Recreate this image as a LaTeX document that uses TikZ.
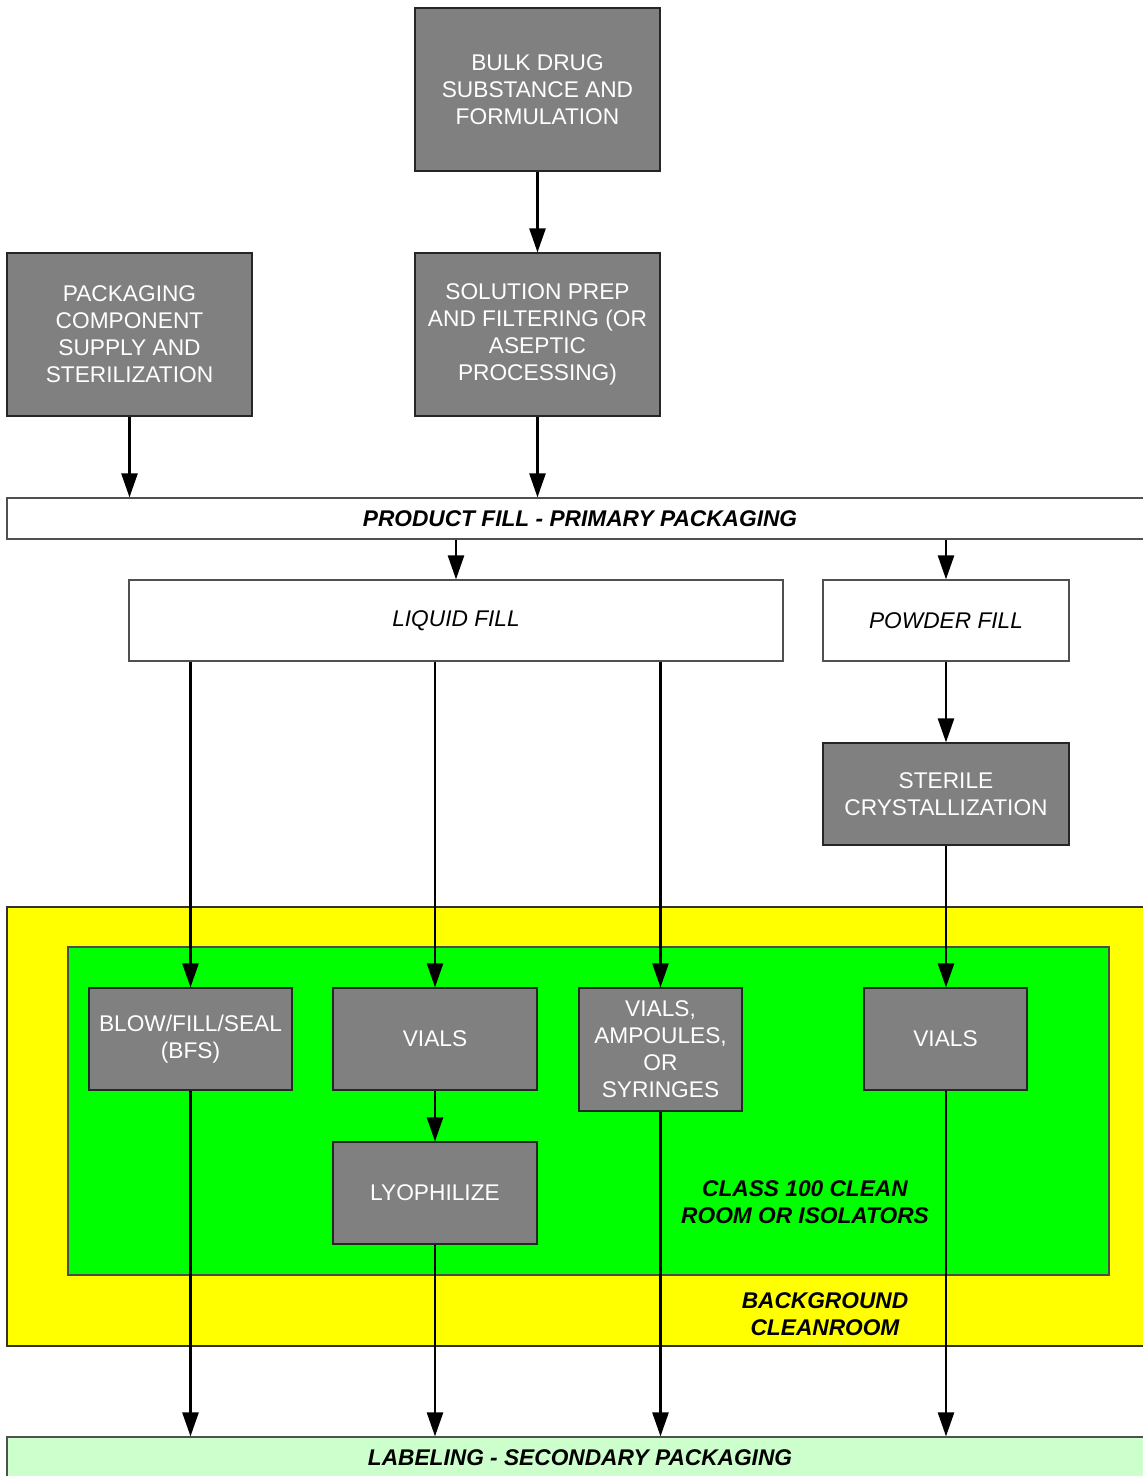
\documentclass[tikz,border=0pt]{standalone}
\usepackage{fontspec}
\setmainfont{Liberation Sans}
\usepackage{tikz}
\usetikzlibrary{arrows.meta}
\definecolor{boxgray}{HTML}{808080}
\definecolor{roomyellow}{HTML}{FFFF00}
\definecolor{roomgreen}{HTML}{00FF00}
\definecolor{labelgreen}{HTML}{CCFFCC}
\definecolor{edgegray}{HTML}{505050}
\tikzset{
  stepbox/.style={draw=black!85,line width=1.2pt,fill=boxgray,text=white,align=center,inner sep=0pt,
    font=\fontsize{22.7}{27}\selectfont},
  fillbox/.style={draw=edgegray,line width=1.2pt,fill=white,align=center,inner sep=0pt,
    font=\fontsize{22.7}{27}\selectfont\itshape},
  barbox/.style={draw=edgegray,line width=1.2pt,align=center,inner sep=0pt,
    minimum width=1146pt,minimum height=41pt,font=\fontsize{22.7}{27}\selectfont\bfseries\itshape},
  roomlabel/.style={align=center,inner sep=0pt,font=\fontsize{22.7}{27}\selectfont\bfseries\itshape},
  flow/.style={->,line width=2.5pt,black}
}
\begin{document}
\begin{tikzpicture}[line cap=butt,line join=miter,>={Triangle[width=16pt,length=24pt]},x=1pt,y=-1pt]
\clip(0,0) rectangle (1143,1476);
\useasboundingbox (0,0) rectangle (1143,1476);
% clean rooms
\draw [line width=1.2pt,draw=black!80,fill=roomyellow] (7,907) rectangle (1153,1346);
\draw [line width=1.2pt,draw=black!70,fill=roomgreen] (68,947) rectangle (1109,1275);
\node [roomlabel] (bgroom) at (825,1314.5) {BACKGROUND\\CLEANROOM};
\node [roomlabel] (cleanroom) at (805,1202.5) {CLASS 100 CLEAN\\ROOM OR ISOLATORS};
% upstream
\node [stepbox,minimum width=245pt,minimum height=163pt] (bulk) at (537.5,89.5) {BULK DRUG\\SUBSTANCE AND\\FORMULATION};
\node [stepbox,minimum width=245pt,minimum height=163pt] (solprep) at (537.5,334.5) {SOLUTION PREP\\AND FILTERING (OR\\ASEPTIC\\PROCESSING)};
\node [stepbox,minimum width=245pt,minimum height=163pt] (pkgsupply) at (129.5,334.5) {PACKAGING\\COMPONENT\\SUPPLY AND\\STERILIZATION};
\node [barbox,fill=white] (prodfill) at (580,518.5) {PRODUCT FILL - PRIMARY PACKAGING};
\node [fillbox,minimum width=654pt,minimum height=81pt] (liquid) at (456,620.5) {LIQUID FILL};
\node [fillbox,minimum width=246pt,minimum height=81pt] (powder) at (946,620.5) {POWDER FILL};
\node [stepbox,minimum width=246pt,minimum height=102pt] (steril) at (946,794) {STERILE\\CRYSTALLIZATION};
% fill lines
\node [stepbox,minimum width=203pt,minimum height=102pt] (bfs) at (190.5,1039) {BLOW/FILL/SEAL\\(BFS)};
\node [stepbox,minimum width=204pt,minimum height=102pt] (vialsl) at (435,1039) {VIALS};
\node [stepbox,minimum width=204pt,minimum height=102pt] (lyo) at (435,1193) {LYOPHILIZE};
\node [stepbox,minimum width=163pt,minimum height=123pt] (vas) at (660.5,1049.5) {VIALS,\\AMPOULES,\\OR\\SYRINGES};
\node [stepbox,minimum width=163pt,minimum height=102pt] (vialsp) at (945.5,1039) {VIALS};
\node [barbox,fill=labelgreen] (labeling) at (580,1457.5) {LABELING - SECONDARY PACKAGING};
% connectors
\draw [flow] (bulk) -- (solprep);
\draw [flow] (solprep) -- (solprep |- prodfill.north);
\draw [flow] (pkgsupply) -- (pkgsupply |- prodfill.north);
\draw [flow] (liquid.north |- prodfill.south) -- (liquid);
\draw [flow] (powder.north |- prodfill.south) -- (powder);
\draw [flow] (bfs.north |- liquid.south) -- (bfs);
\draw [flow] (vialsl.north |- liquid.south) -- (vialsl);
\draw [flow] (vas.north |- liquid.south) -- (vas);
\draw [flow] (powder) -- (steril);
\draw [flow] (steril) -- (vialsp.north -| steril.south);
\draw [flow] (vialsl) -- (lyo);
\draw [flow] (bfs) -- (bfs |- labeling.north);
\draw [flow] (lyo) -- (lyo |- labeling.north);
\draw [flow] (vas) -- (vas |- labeling.north);
\draw [flow] (vialsp.south -| steril.south) -- (steril.south |- labeling.north);
\end{tikzpicture}
\end{document}
